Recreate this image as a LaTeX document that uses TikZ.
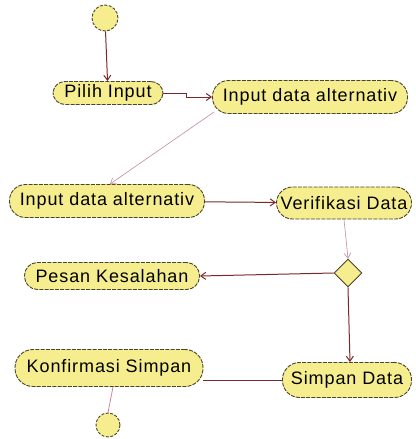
\documentclass[tikz,border=0pt]{standalone}
\usepackage{fontspec}
\setmainfont{Liberation Sans}[LetterSpace=5]
\usetikzlibrary{arrows.meta,shapes.geometric}
\definecolor{actfill}{HTML}{F6EE8E}
\definecolor{actedge}{HTML}{4A4428}
\definecolor{flow}{HTML}{7A2A2A}
\definecolor{flowlight}{HTML}{C58A9A}
\tikzset{
  act/.style={draw=actedge, fill=actfill, line width=0.9pt,
    dash pattern=on 4pt off 1.2pt, rounded corners=#1,
    font=\fontsize{18}{19}\selectfont, inner sep=0pt},
  act/.default=12pt,
  dot/.style={circle, draw=actedge, fill=actfill, line width=0.9pt,
    dash pattern=on 3pt off 1.5pt, inner sep=0pt},
  choice/.style={diamond, draw=actedge, fill=actfill, line width=0.9pt,
    inner sep=0pt, minimum width=28pt, minimum height=28pt},
  fl/.style={draw=flow, line width=1pt, -{Straight Barb[length=5pt,width=7pt]}},
  fllight/.style={draw=flowlight, line width=0.6pt, -{Straight Barb[length=5pt,width=7pt]}},
  plain/.style={draw=flow, line width=1pt},
}
\begin{document}
\begin{tikzpicture}[x=1pt,y=-1pt]
\useasboundingbox (0,0) rectangle (415,439);
\fill[white] (0,0) rectangle (415,439);

\node[dot, minimum size=26pt] (start) at (105,18) {};
\node[act, minimum width=110pt, minimum height=23pt] (pilih) at (108,93) {Pilih Input};
\node[act=16pt, minimum width=195pt, minimum height=33pt] (in1) at (310,97) {Input data alternativ};
\node[act=16pt, minimum width=195pt, minimum height=33pt] (in2) at (107,201) {Input data alternativ};
\node[act=16pt, minimum width=135pt, minimum height=32pt] (ver) at (344,203) {Verifikasi Data};
\node[choice] (dec) at (348,273) {};
\node[act=13pt, minimum width=175pt, minimum height=27pt] (pesan) at (112,276) {Pesan Kesalahan};
\node[act=17pt, minimum width=129pt, minimum height=35pt] (simpan) at (347,380) {Simpan Data};
\node[act=18pt, minimum width=188pt, minimum height=37pt] (konf) at (109,368) {Konfirmasi Simpan};
\node[dot, minimum size=24pt] (stop) at (108,425) {};

\coordinate (jog) at (186,93);
\draw[fl] (start) -- (pilih);
\draw[fl] (pilih.east) -- (jog) |- (in1.west);
\draw[fllight] (in1.south west) ++(2,-2) -- ([xshift=3pt]in2.north);
\draw[fl] (in2) -- (ver);
\draw[fllight] (ver.south) -- (dec.north);
\draw[fl] (dec.west) -- (pesan.east);
\draw[fl] (dec.south) -- ([xshift=3pt]simpan.north);
\draw[plain] (simpan.west) -- (konf.east |- simpan.west);
\draw[draw=flowlight, line width=0.8pt] ([xshift=4pt]konf.south) -- (stop.north);
\end{tikzpicture}
\end{document}
